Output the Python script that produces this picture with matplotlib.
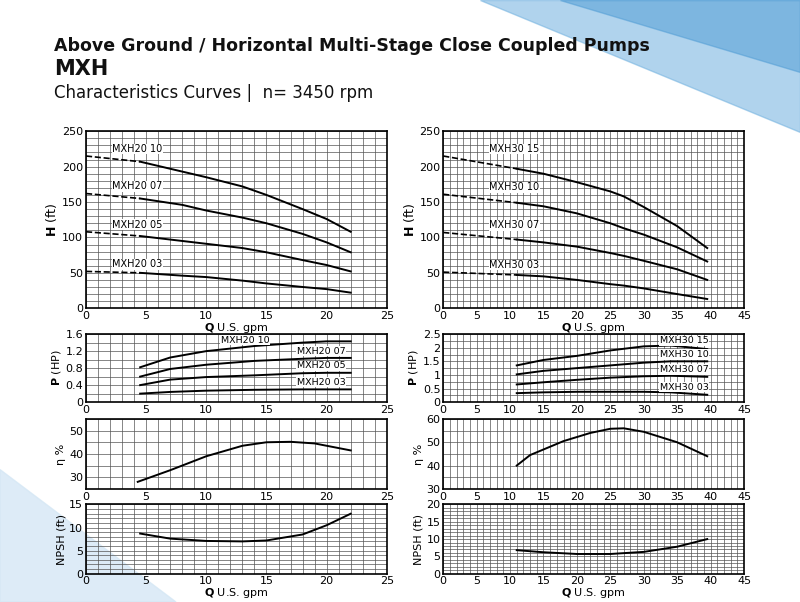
import numpy as np
import matplotlib
matplotlib.use("Agg")
import matplotlib.pyplot as plt
from matplotlib.ticker import MultipleLocator, FormatStrFormatter

# ---- data ----
h20_q = [4.5, 8, 10, 13, 15, 18, 20, 22]
h20 = {"MXH20 10": ([215, 207], [207, 193, 185, 172, 160, 140, 126, 108]),
       "MXH20 07": ([162, 155], [155, 146, 138, 128, 120, 105, 93, 79]),
       "MXH20 05": ([108, 102], [102, 95, 91, 85, 79, 68, 61, 52]),
       "MXH20 03": ([52, 50], [50, 46, 44, 39, 35, 30, 27, 22])}
h30_q = [11, 15, 20, 25, 27, 30, 35, 39.5]
h30 = {"MXH30 15": ([215, 197], [197, 190, 178, 165, 158, 143, 116, 85]),
       "MXH30 10": ([161, 149], [149, 144, 134, 120, 113, 104, 86, 66]),
       "MXH30 07": ([107, 97], [97, 93, 87, 78, 74, 67, 55, 40]),
       "MXH30 03": ([51, 47], [47, 45, 40, 34, 32, 28, 20, 13])}
p20_q = [4.5, 7, 10, 14, 18, 20, 22]
p20 = {"MXH20 10": [0.82, 1.05, 1.2, 1.32, 1.4, 1.43, 1.43],
       "MXH20 07": [0.6, 0.78, 0.88, 0.97, 1.02, 1.04, 1.04],
       "MXH20 05": [0.4, 0.53, 0.59, 0.63, 0.68, 0.69, 0.69],
       "MXH20 03": [0.2, 0.24, 0.27, 0.29, 0.3, 0.3, 0.3]}
p30_q = [11, 15, 20, 25, 30, 34, 39.5]
p30 = {"MXH30 15": [1.35, 1.55, 1.7, 1.9, 2.05, 2.08, 1.95],
       "MXH30 10": [1.02, 1.15, 1.25, 1.35, 1.45, 1.5, 1.5],
       "MXH30 07": [0.65, 0.73, 0.82, 0.9, 0.95, 0.97, 0.93],
       "MXH30 03": [0.33, 0.36, 0.38, 0.38, 0.38, 0.36, 0.27]}
e20_q = [4.3, 7, 10, 13, 15, 17, 19, 22]
e20 = [28, 33, 39, 43.5, 45, 45.2, 44.5, 41.5]
e30_q = [11, 13, 18, 22, 25, 27, 30, 35, 39.5]
e30 = [40, 44.5, 50.5, 54, 55.8, 56, 54.5, 50, 44]
n20_q = [4.5, 7, 10, 13, 15, 18, 20, 22]
n20 = [8.7, 7.6, 7.1, 7.0, 7.2, 8.5, 10.5, 13]
n30_q = [11, 15, 20, 25, 30, 35, 39.5]
n30 = [6.8, 6.2, 5.7, 5.7, 6.3, 7.8, 10]

# label anchor positions (data coords)
h_label_x = {"MXH20": 2.2, "MXH30": 6.9}
p20_lab = [(11.2, 1.46), (17.5, 1.2), (17.5, 0.85), (17.5, 0.47)]
p30_lab = [(32.4, 2.25), (32.4, 1.75), (32.4, 1.2), (32.4, 0.55)]

fig = plt.figure(figsize=(8, 6.02), dpi=100)

bg = fig.add_axes([0, 0, 1, 1], zorder=-10)
bg.set_xlim(0, 1); bg.set_ylim(0, 1); bg.axis("off")
bg.fill([0.6, 1, 1], [1, 1, 0.78], color="#6fb0df", alpha=0.55)
bg.fill([0.7, 1, 1], [1, 1, 0.88], color="#4c9ad4", alpha=0.5)
bg.fill([0, 0.22, 0], [0.22, 0, 0], color="#d5e7f5", alpha=0.8)

fig.text(0.068, 0.915, "Above Ground / Horizontal Multi-Stage Close Coupled Pumps",
         fontsize=12.5, fontweight="bold", color="#111")
fig.text(0.068, 0.875, "MXH", fontsize=15, fontweight="bold", color="#111")
fig.text(0.068, 0.837, "Characteristics Curves |  n= 3450 rpm", fontsize=12, color="#111")

L1, L2, W = 0.1075, 0.554, 0.376
box = dict(fc="white", ec="none", pad=0.5)

def style(ax, xmax, xminor, ymin, ymax, ymaj, ymin_step):
    ax.set_xlim(0, xmax); ax.set_ylim(ymin, ymax)
    ax.xaxis.set_major_locator(MultipleLocator(5))
    ax.xaxis.set_minor_locator(MultipleLocator(xminor))
    ax.yaxis.set_major_locator(MultipleLocator(ymaj))
    ax.yaxis.set_minor_locator(MultipleLocator(ymin_step))
    ax.yaxis.set_major_formatter(FormatStrFormatter("%g"))
    ax.grid(which="both", color="#555", lw=0.5)
    ax.tick_params(which="both", length=0, labelsize=8, pad=2)
    for s in ax.spines.values():
        s.set_linewidth(1.2)
    ax.set_facecolor("none")
    ax.set_axisbelow(True)

xl = r"$\mathbf{Q}$ U.S. gpm"
for left, qmax, qs, data in [(L1, 25, h20_q, h20), (L2, 45, h30_q, h30)]:
    ax = fig.add_axes([left, 0.488, W, 0.294])
    style(ax, qmax, 1, 0, 250, 50, 10)
    for name, (dash, sol) in data.items():
        ax.plot([0, qs[0]], dash, "k--", lw=1.2)
        ax.plot(qs, sol, "k-", lw=1.4)
        ax.text(h_label_x[name[:5]], dash[0] + 3, name, fontsize=7,
                ha="left", va="bottom",
                bbox=dict(fc="white", ec="none", pad=0.3))
    ax.set_ylabel(r"$\mathbf{H}$ (ft)", fontsize=9, labelpad=2)
    ax.set_xlabel(xl, fontsize=8, labelpad=0)

for left, qmax, qs, data, ymax, ymaj, ymn, labs in [
        (L1, 25, p20_q, p20, 1.6, 0.4, 0.2, p20_lab),
        (L2, 45, p30_q, p30, 2.5, 0.5, 0.25, p30_lab)]:
    ax = fig.add_axes([left, 0.332, W, 0.113])
    style(ax, qmax, 1, 0, ymax, ymaj, ymn)
    for (name, vals), (lx, ly) in zip(data.items(), labs):
        ax.plot(qs, vals, "k-", lw=1.4)
        ax.text(lx, ly, name, fontsize=6.8, va="center", ha="left", bbox=box)
    ax.set_ylabel(r"$\mathbf{P}$ (HP)", fontsize=8, labelpad=2)

for left, qmax, qs, vals, ymin, ymax, ymaj, ymn in [
        (L1, 25, e20_q, e20, 25, 55, 10, 5),
        (L2, 45, e30_q, e30, 30, 60, 10, 5)]:
    ax = fig.add_axes([left, 0.188, W, 0.116])
    style(ax, qmax, 1, ymin, ymax, ymaj, ymn)
    ax.plot(qs, vals, "k-", lw=1.4)
    ax.set_ylabel("η %", fontsize=8, labelpad=2)

for left, qmax, qs, vals, ymax in [(L1, 25, n20_q, n20, 15), (L2, 45, n30_q, n30, 20)]:
    ax = fig.add_axes([left, 0.047, W, 0.115])
    style(ax, qmax, 1, 0, ymax, 5, 1)
    ax.plot(qs, vals, "k-", lw=1.4)
    ax.set_ylabel("NPSH (ft)", fontsize=8, labelpad=2)
    ax.set_xlabel(xl, fontsize=8, labelpad=0)

fig.savefig("out.png", dpi=100)
